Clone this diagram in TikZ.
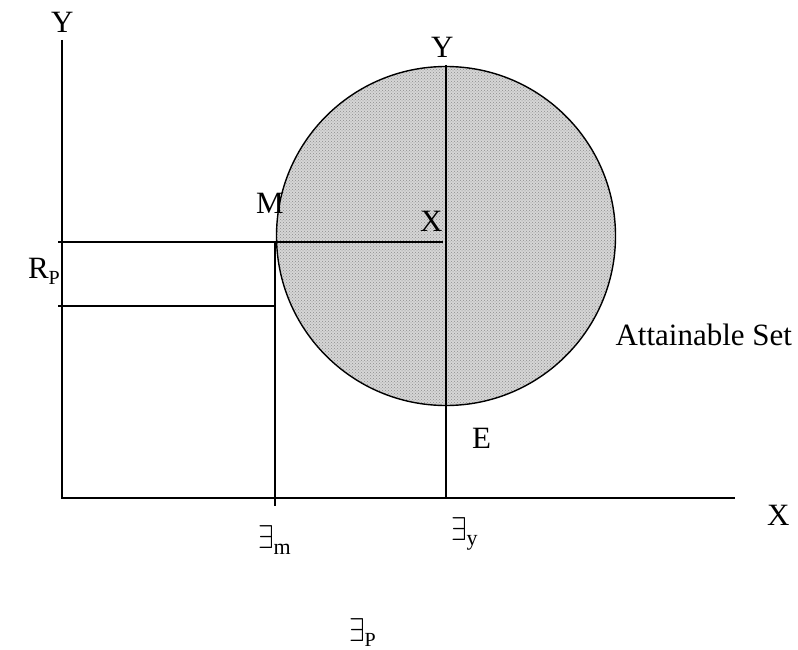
\documentclass[tikz,border=0pt]{standalone}
\usepackage{fontspec}
\usepackage{graphicx}
\usetikzlibrary{patterns}
\setmainfont{Liberation Serif}
\newcommand{\exsym}{\scalebox{2.8}[3.3]{\fontsize{10}{12}\selectfont$\exists$}}
\begin{document}
\begin{tikzpicture}[x=1pt,y=-1pt,
  lbl/.style={inner sep=0pt,outer sep=0pt,anchor=base west,font=\fontsize{31}{36}\selectfont},
  axis/.style={line width=1.6pt},
  guide/.style={line width=1.6pt}]
\useasboundingbox (0,0) rectangle (798,650);
% circle
\coordinate (C) at (446,236);
\fill[black!16] (C) circle (169.5);
\fill[pattern=crosshatch dots,pattern color=black!45] (C) circle (169.5);
\draw[line width=1.4pt] (C) circle (169.5);
% coordinates
\coordinate (O) at (62,498);
\coordinate (Ytop) at (62,40);
\coordinate (Xend) at (735,498);
\coordinate (Vtop) at (446,65);
\coordinate (Vbot) at (446,498);
\coordinate (H1a) at (58,242);
\coordinate (H1b) at (443,242);
\coordinate (Mv) at (275,242);
\coordinate (Mb) at (275,506);
\coordinate (H2a) at (58,306);
\coordinate (H2b) at (275,306);
% lines
\draw[axis] (Ytop) -- (O) -- (Xend);
\draw[guide] (Vtop) -- (Vbot);
\draw[guide] (H1a) -- (H1b);
\draw[guide] (Mv) -- (Mb);
\draw[guide] (H2a) -- (H2b);
% labels
\node[lbl] (ly1) at (51,33) {Y};
\node[lbl] (ly2) at (431,58) {Y};
\node[lbl] (lm) at (256,213) {M};
\node[lbl] (lx1) at (420,231) {X};
\node[lbl] (le) at (472,448) {E};
\node[lbl] (lx2) at (767,525) {X};
\node[lbl,anchor=base east] (las) at (792,345) {Attainable Set};
\node[lbl] (lrp) at (28,278) {R\raisebox{-6pt}{\fontsize{20}{22}\selectfont P}};
\node[lbl] (lem) at (258,548) {\exsym\raisebox{-6pt}{\fontsize{22}{24}\selectfont m}};
\node[lbl] (ley) at (451,540) {\exsym\raisebox{-5pt}{\fontsize{22}{24}\selectfont y}};
\node[lbl] (lep) at (349,641) {\exsym\raisebox{-5pt}{\fontsize{20}{22}\selectfont P}};
\end{tikzpicture}
\end{document}
